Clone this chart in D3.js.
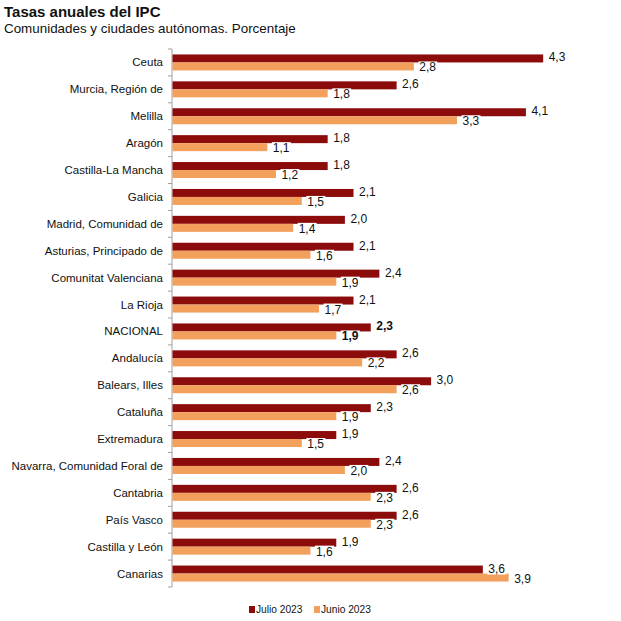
<!DOCTYPE html>
<html><head><meta charset="utf-8">
<script src="https://cdn.jsdelivr.net/npm/d3@7"></script>
<style>body{margin:0;background:#fff}svg{display:block}text{font-family:"Liberation Sans",Arial,sans-serif}</style>
</head><body>
<script>
const categories = ["Ceuta","Murcia, Región de","Melilla","Aragón","Castilla-La Mancha","Galicia","Madrid, Comunidad de","Asturias, Principado de","Comunitat Valenciana","La Rioja","NACIONAL","Andalucía","Balears, Illes","Cataluña","Extremadura","Navarra, Comunidad Foral de","Cantabria","País Vasco","Castilla y León","Canarias"];
const julio2023 = [4.3,2.6,4.1,1.8,1.8,2.1,2.0,2.1,2.4,2.1,2.3,2.6,3.0,2.3,1.9,2.4,2.6,2.6,1.9,3.6];
const junio2023 = [2.8,1.8,3.3,1.1,1.2,1.5,1.4,1.6,1.9,1.7,1.9,2.2,2.6,1.9,1.5,2.0,2.3,2.3,1.6,3.9];
const seriesNames = ["Julio 2023","Junio 2023"];
const colors = ["#8c0c0c","#f2a05c"];

const W=621,H=621;
const svg=d3.select("body").append("svg").attr("width",W).attr("height",H);
svg.append("text").attr("x",4).attr("y",17).attr("font-size",15).attr("font-weight","bold").attr("fill","#111").text("Tasas anuales del IPC");
svg.append("text").attr("x",4).attr("y",33).attr("font-size",13.4).attr("fill","#111").text("Comunidades y ciudades autónomas. Porcentaje");

const x=d3.scaleLinear().domain([0,5]).range([172,603]);
const y=d3.scaleBand().domain(categories).range([49,587]).paddingInner(0).paddingOuter(0);
const sub=d3.scaleBand().domain([0,1]).range([0,16]);
const barOff=(y.bandwidth()-16)/2;

// axis
const ax=svg.append("g").attr("transform",`translate(${x(0)},0)`);
ax.append("line").attr("y1",49).attr("y2",587).attr("stroke","#a0a0a0");
const tickYs=d3.range(categories.length+1).map(i=>49+i*y.step());
ax.selectAll("line.t").data(tickYs).join("line").attr("class","t").attr("x1",-4).attr("x2",0).attr("y1",d=>d).attr("y2",d=>d).attr("stroke","#a0a0a0");

svg.selectAll("text.cat").data(categories).join("text").attr("class","cat")
 .attr("x",163).attr("y",d=>y(d)+y.bandwidth()/2+4).attr("text-anchor","end")
 .attr("font-size",11.5).attr("fill","#111").text(d=>d);

const series=[julio2023,junio2023];
series.forEach((vals,si)=>{
  const g=svg.append("g");
  g.selectAll("rect").data(categories).join("rect")
   .attr("x",x(0)+0.5).attr("y",(d)=>y(d)+barOff+sub(si))
   .attr("width",(d,i)=>x(vals[i])-x(0)).attr("height",sub.bandwidth())
   .attr("fill",colors[si]);
});
series.forEach((vals,si)=>{
  const lg=svg.append("g");
  categories.forEach((c,i)=>{
    const tx=x(vals[i])+6, ty=y(c)+barOff+sub(si)+sub.bandwidth()/2+4+(si===1?1:-1);
    const t=lg.append("text").attr("x",tx).attr("y",ty).attr("font-size",12).attr("fill","#111")
      .attr("font-weight",c==="NACIONAL"?"bold":"normal").text(d3.format(".1f")(vals[i]).replace(".",","));
    const bb=t.node().getBBox();
    lg.insert("rect","text").attr("x",bb.x-1).attr("y",bb.y+1).attr("width",bb.width+2).attr("height",bb.height-2).attr("fill","#fff");
  });
});

// legend
const leg=svg.append("g");
const legX=[249,314];
seriesNames.forEach((n,i)=>{
  leg.append("rect").attr("x",legX[i]).attr("y",606).attr("width",6).attr("height",7).attr("fill",colors[i]);
  leg.append("text").attr("x",legX[i]+7).attr("y",613).attr("font-size",10.2).attr("fill","#111").text(n);
});
</script>
</body></html>
